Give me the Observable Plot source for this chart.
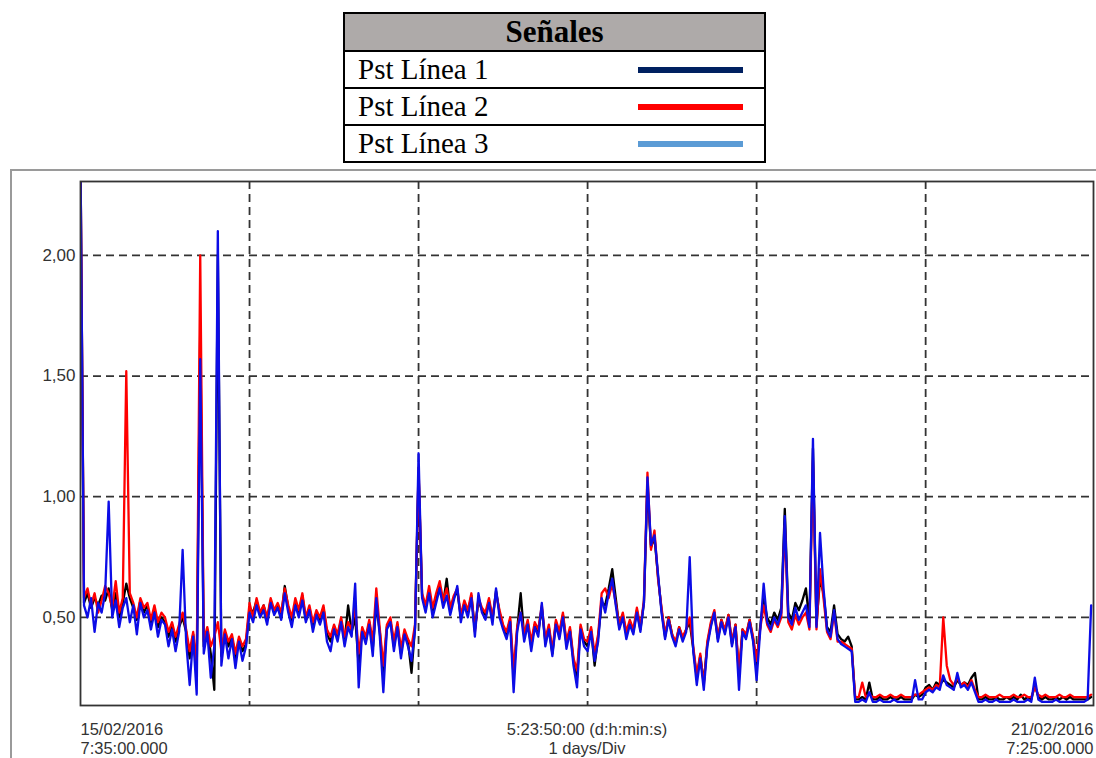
<!DOCTYPE html>
<html>
<head>
<meta charset="utf-8">
<script src="https://cdn.jsdelivr.net/npm/d3@7"></script>
<script src="https://cdn.jsdelivr.net/npm/@observablehq/plot@0.6"></script>
<style>
  html, body { margin: 0; padding: 0; background: #fff; }
  #page { position: relative; width: 1096px; height: 758px; overflow: hidden; background: #fff; }
  #legend { position: absolute; left: 343px; top: 12px; border-collapse: collapse; width: 423px;
            font-family: "Liberation Serif", "Times New Roman", serif; color: #000; }
  #legend td { border: 2px solid #000; padding: 0; }
  #legend .head { background: #aeaaa9; height: 36px; text-align: center; font-weight: bold; font-size: 31px; line-height: 36px; }
  #legend .row { height: 35px; font-size: 29px; line-height: 35px; }
  #legend .row span.lbl { padding-left: 13px; }
  #legend .swatch { float: right; margin-right: 21px; margin-top: 15px; width: 105px; height: 6px; }
  #frame { position: absolute; left: 10px; top: 169px; width: 1200px; height: 700px; border: 2px solid #9a9a9a; box-sizing: border-box; }
  #chart { position: absolute; left: 0; top: 168px; }
</style>
</head>
<body>
<div id="page">
  <table id="legend"></table>
  <div id="frame"></div>
  <div id="chart"></div>
</div>
<script>
// ---- Data (Pst values, one sample every half hour from 15/02/2016 7:35) ----
const stepHours = 0.5;
const totalHours = 143 + 50 / 60; // 5:23:50:00

const seriesNames = ["Pst Línea 1", "Pst Línea 2", "Pst Línea 3"];
const legendColors = ["#002060", "#ff0000", "#5b9bd5"];
const lineColors = ["#000000", "#ff0000", "#0c0ce6"];

const pst1 = [
  2.40, 0.56, 0.60, 0.54, 0.58, 0.55, 0.59, 0.57, 0.62, 0.53, 0.60, 0.50, 0.56, 0.64, 0.58, 0.54, 0.49, 0.57, 0.52, 0.55, 0.47, 0.53, 0.46, 0.50,
  0.48, 0.42, 0.47, 0.40, 0.46, 0.50, 0.44, 0.33, 0.43, 0.26, 1.70, 0.38, 0.45, 0.35, 0.20, 2.00, 0.34, 0.44, 0.38, 0.42, 0.33, 0.41, 0.36, 0.39,
  0.54, 0.52, 0.57, 0.51, 0.55, 0.49, 0.57, 0.52, 0.55, 0.50, 0.63, 0.54, 0.48, 0.56, 0.52, 0.59, 0.49, 0.54, 0.46, 0.52, 0.49, 0.54, 0.43, 0.40,
  0.46, 0.42, 0.49, 0.40, 0.55, 0.44, 0.50, 0.30, 0.45, 0.40, 0.48, 0.37, 0.55, 0.44, 0.26, 0.46, 0.49, 0.38, 0.47, 0.35, 0.44, 0.40, 0.27, 0.46,
  1.10, 0.59, 0.54, 0.61, 0.52, 0.58, 0.63, 0.56, 0.66, 0.53, 0.58, 0.61, 0.50, 0.56, 0.52, 0.59, 0.45, 0.57, 0.53, 0.51, 0.57, 0.49, 0.61, 0.52,
  0.46, 0.43, 0.49, 0.25, 0.45, 0.60, 0.42, 0.48, 0.38, 0.47, 0.44, 0.54, 0.40, 0.46, 0.35, 0.48, 0.43, 0.51, 0.39, 0.45, 0.32, 0.25, 0.46, 0.40,
  0.38, 0.45, 0.30, 0.42, 0.56, 0.55, 0.62, 0.70, 0.58, 0.46, 0.51, 0.43, 0.48, 0.44, 0.53, 0.45, 0.56, 1.05, 0.79, 0.83, 0.67, 0.53, 0.42, 0.50,
  0.43, 0.39, 0.46, 0.41, 0.45, 0.48, 0.37, 0.25, 0.34, 0.23, 0.39, 0.47, 0.52, 0.41, 0.49, 0.44, 0.51, 0.39, 0.47, 0.26, 0.45, 0.42, 0.49, 0.41,
  0.30, 0.46, 0.58, 0.50, 0.47, 0.52, 0.49, 0.54, 0.95, 0.52, 0.49, 0.56, 0.53, 0.57, 0.62, 0.48, 1.20, 0.47, 0.66, 0.60, 0.46, 0.44, 0.55, 0.43,
  0.41, 0.40, 0.42, 0.38, 0.16, 0.16, 0.17, 0.16, 0.23, 0.16, 0.16, 0.17, 0.16, 0.16, 0.17, 0.16, 0.16, 0.17, 0.16, 0.16, 0.16, 0.18, 0.17, 0.18,
  0.21, 0.22, 0.20, 0.23, 0.22, 0.24, 0.23, 0.22, 0.21, 0.24, 0.22, 0.23, 0.22, 0.25, 0.27, 0.16, 0.16, 0.17, 0.16, 0.16, 0.17, 0.16, 0.16, 0.17,
  0.16, 0.17, 0.16, 0.18, 0.16, 0.17, 0.16, 0.22, 0.17, 0.16, 0.17, 0.16, 0.16, 0.17, 0.16, 0.17, 0.16, 0.17, 0.16, 0.16, 0.16, 0.16, 0.16, 0.17
];

const pst2 = [
  2.40, 0.58, 0.62, 0.55, 0.60, 0.52, 0.57, 0.63, 0.60, 0.54, 0.65, 0.52, 0.58, 1.52, 0.60, 0.56, 0.50, 0.58, 0.54, 0.56, 0.49, 0.55, 0.48, 0.52,
  0.50, 0.44, 0.48, 0.42, 0.47, 0.52, 0.45, 0.36, 0.44, 0.30, 2.00, 0.40, 0.46, 0.38, 0.42, 0.48, 0.36, 0.45, 0.40, 0.43, 0.35, 0.42, 0.38, 0.41,
  0.56, 0.50, 0.58, 0.52, 0.55, 0.50, 0.58, 0.53, 0.56, 0.52, 0.62, 0.55, 0.50, 0.58, 0.53, 0.60, 0.50, 0.55, 0.48, 0.53, 0.50, 0.55, 0.45, 0.42,
  0.47, 0.43, 0.50, 0.42, 0.48, 0.45, 0.55, 0.35, 0.46, 0.42, 0.49, 0.40, 0.62, 0.45, 0.30, 0.47, 0.50, 0.40, 0.48, 0.37, 0.45, 0.41, 0.38, 0.47,
  1.12, 0.60, 0.55, 0.63, 0.54, 0.60, 0.65, 0.57, 0.62, 0.54, 0.59, 0.62, 0.51, 0.57, 0.53, 0.60, 0.44, 0.58, 0.54, 0.52, 0.58, 0.50, 0.60, 0.53,
  0.47, 0.44, 0.50, 0.28, 0.46, 0.52, 0.43, 0.49, 0.40, 0.48, 0.45, 0.55, 0.41, 0.47, 0.36, 0.49, 0.44, 0.52, 0.40, 0.46, 0.33, 0.28, 0.47, 0.41,
  0.40, 0.46, 0.35, 0.43, 0.60, 0.62, 0.58, 0.64, 0.56, 0.47, 0.52, 0.44, 0.49, 0.45, 0.54, 0.46, 0.57, 1.10, 0.78, 0.86, 0.66, 0.54, 0.43, 0.50,
  0.43, 0.40, 0.46, 0.42, 0.45, 0.50, 0.38, 0.26, 0.35, 0.22, 0.40, 0.48, 0.53, 0.42, 0.49, 0.45, 0.51, 0.40, 0.47, 0.28, 0.45, 0.43, 0.49, 0.42,
  0.32, 0.45, 0.55, 0.47, 0.44, 0.49, 0.46, 0.50, 0.88, 0.48, 0.45, 0.51, 0.47, 0.50, 0.52, 0.45, 1.15, 0.45, 0.70, 0.58, 0.44, 0.41, 0.52, 0.40,
  0.40, 0.39, 0.38, 0.37, 0.17, 0.17, 0.23, 0.17, 0.18, 0.17, 0.17, 0.18, 0.17, 0.17, 0.18, 0.17, 0.17, 0.18, 0.17, 0.17, 0.17, 0.18, 0.18, 0.19,
  0.20, 0.21, 0.20, 0.22, 0.21, 0.50, 0.30, 0.24, 0.22, 0.25, 0.22, 0.23, 0.21, 0.24, 0.20, 0.17, 0.17, 0.18, 0.17, 0.17, 0.17, 0.18, 0.17, 0.17,
  0.17, 0.18, 0.17, 0.17, 0.18, 0.17, 0.17, 0.21, 0.18, 0.17, 0.18, 0.17, 0.17, 0.17, 0.18, 0.17, 0.17, 0.18, 0.17, 0.17, 0.17, 0.17, 0.17, 0.18
];

const pst3 = [
  2.40, 0.55, 0.50, 0.58, 0.44, 0.56, 0.52, 0.60, 0.98, 0.50, 0.57, 0.46, 0.54, 0.58, 0.48, 0.55, 0.43, 0.56, 0.50, 0.53, 0.45, 0.52, 0.42, 0.49,
  0.47, 0.38, 0.45, 0.36, 0.44, 0.78, 0.40, 0.22, 0.42, 0.18, 1.57, 0.35, 0.44, 0.25, 0.38, 2.10, 0.30, 0.43, 0.33, 0.41, 0.29, 0.40, 0.32, 0.38,
  0.52, 0.48, 0.55, 0.50, 0.53, 0.47, 0.56, 0.51, 0.54, 0.49, 0.60, 0.52, 0.46, 0.55, 0.50, 0.57, 0.48, 0.53, 0.44, 0.51, 0.47, 0.52, 0.40, 0.36,
  0.45, 0.40, 0.48, 0.38, 0.46, 0.42, 0.64, 0.21, 0.44, 0.39, 0.47, 0.34, 0.58, 0.42, 0.19, 0.45, 0.48, 0.36, 0.46, 0.33, 0.43, 0.38, 0.32, 0.45,
  1.18, 0.58, 0.52, 0.60, 0.50, 0.56, 0.62, 0.54, 0.59, 0.51, 0.57, 0.63, 0.48, 0.55, 0.50, 0.58, 0.42, 0.60, 0.52, 0.49, 0.56, 0.47, 0.62, 0.50,
  0.45, 0.41, 0.48, 0.19, 0.44, 0.52, 0.40, 0.47, 0.36, 0.46, 0.42, 0.56, 0.38, 0.45, 0.34, 0.47, 0.41, 0.50, 0.37, 0.44, 0.30, 0.21, 0.45, 0.38,
  0.36, 0.44, 0.32, 0.40, 0.58, 0.52, 0.60, 0.66, 0.55, 0.45, 0.50, 0.41, 0.47, 0.43, 0.52, 0.44, 0.56, 1.08, 0.80, 0.84, 0.68, 0.52, 0.41, 0.49,
  0.42, 0.38, 0.45, 0.40, 0.44, 0.75, 0.36, 0.22, 0.33, 0.20, 0.38, 0.46, 0.52, 0.40, 0.48, 0.43, 0.50, 0.38, 0.46, 0.20, 0.44, 0.41, 0.48, 0.40,
  0.24, 0.44, 0.64, 0.48, 0.45, 0.50, 0.47, 0.52, 0.92, 0.50, 0.47, 0.54, 0.49, 0.52, 0.55, 0.46, 1.24, 0.46, 0.85, 0.62, 0.45, 0.42, 0.53, 0.41,
  0.39, 0.38, 0.37, 0.36, 0.15, 0.15, 0.16, 0.15, 0.19, 0.15, 0.15, 0.16, 0.15, 0.15, 0.15, 0.16, 0.15, 0.15, 0.15, 0.15, 0.15, 0.24, 0.16, 0.16,
  0.19, 0.20, 0.19, 0.21, 0.20, 0.26, 0.22, 0.21, 0.20, 0.27, 0.21, 0.22, 0.20, 0.23, 0.19, 0.15, 0.15, 0.16, 0.15, 0.15, 0.16, 0.15, 0.15, 0.15,
  0.15, 0.16, 0.15, 0.15, 0.15, 0.16, 0.15, 0.25, 0.16, 0.15, 0.15, 0.15, 0.15, 0.16, 0.15, 0.15, 0.15, 0.15, 0.15, 0.15, 0.15, 0.15, 0.16, 0.55
];

const yTicks = [0.5, 1.0, 1.5, 2.0];
const dayGridHours = [24, 48, 72, 96, 120];
const xLabelHours = [0, totalHours / 2, totalHours];
const xLabelTop = ["15/02/2016", "5:23:50:00 (d:h:min:s)", "21/02/2016"];
const xLabelBottom = ["7:35:00.000", "1 days/Div", "7:25:00.000"];
const xLabelAnchors = ["start", "middle", "end"];

// ---- Legend table ----
const legend = document.getElementById("legend");
legend.innerHTML = `<tr><td class="head">Señales</td></tr>` +
  seriesNames.map((n, i) => `<tr><td class="row"><span class="lbl">${n}</span><span class="swatch" style="background:${legendColors[i]}"></span></td></tr>`).join("");

// ---- Chart ----
const gridStyle = {stroke: "#333", strokeOpacity: 1, strokeWidth: 1.8, strokeDasharray: "8,5"};
const allSeries = [pst1, pst2, pst3];

const chart = Plot.plot({
  width: 1096,
  height: 590,
  marginTop: 13,
  marginBottom: 53,
  marginLeft: 80,
  marginRight: 3,
  style: {fontFamily: "'Liberation Sans', Arial, sans-serif", fontSize: "16.5px", color: "#333", background: "transparent"},
  x: {domain: [0, totalHours], axis: null},
  y: {domain: [0.135, 2.306], axis: null},
  marks: [
    Plot.gridY(yTicks, gridStyle),
    Plot.gridX(dayGridHours, gridStyle),
    ...allSeries.map((s, k) => Plot.line(s, {
      x: (d, i) => i * stepHours,
      y: d => d,
      stroke: lineColors[k],
      strokeWidth: 2.3,
      clip: true
    })),
    Plot.frame({stroke: "#333", strokeWidth: 1.8}),
    Plot.axisY(yTicks, {
      tickSize: 0,
      tickPadding: 5,
      tickFormat: d => d.toFixed(2).replace(".", ","),
      fontSize: 17,
      fill: "#333",
      label: null
    }),
    ...xLabelHours.map((h, i) => Plot.text([`${xLabelTop[i]}\n${xLabelBottom[i]}`], {
      x: () => h,
      text: d => d,
      frameAnchor: "bottom",
      lineAnchor: "top",
      lineHeight: 1.2,
      dy: 15,
      textAnchor: xLabelAnchors[i],
      fill: "#333",
      fontSize: 16.5
    }))
  ]
});
document.getElementById("chart").appendChild(chart);
</script>
</body>
</html>
